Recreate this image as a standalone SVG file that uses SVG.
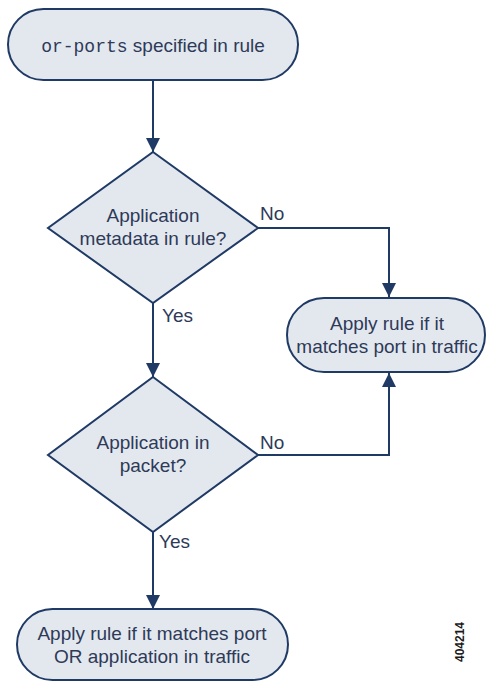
<svg xmlns="http://www.w3.org/2000/svg" width="488" height="681" viewBox="0 0 488 681">
<defs>
<style>
.node{fill:#e3e8ef;stroke:#203a66;stroke-width:2}
.t{font-family:"Liberation Sans",Arial,sans-serif;font-size:19px;fill:#2e3a58;text-anchor:middle}
.lbl{font-family:"Liberation Sans",Arial,sans-serif;font-size:19px;fill:#2e3a58}
.mono{font-family:"Liberation Mono","Courier New",monospace;font-size:18px}
.c{fill:none;stroke:#203a66;stroke-width:2}
</style>
<marker id="a" viewBox="0 0 14 14" refX="14" refY="7" markerWidth="14" markerHeight="14" markerUnits="userSpaceOnUse" orient="auto">
<path d="M0,0 L14,7 L0,14 z" fill="#203a66"/>
</marker>
</defs>
<rect width="488" height="681" fill="#ffffff"/>
<g id="connectors">
<line class="c" x1="153" y1="80" x2="153" y2="152" marker-end="url(#a)"/>
<polyline class="c" points="258,228 389,228 389,297" marker-end="url(#a)"/>
<line class="c" x1="153" y1="303" x2="153" y2="377" marker-end="url(#a)"/>
<polyline class="c" points="258,455 389,455 389,373" marker-end="url(#a)"/>
<line class="c" x1="153" y1="532" x2="153" y2="609" marker-end="url(#a)"/>
<text class="lbl" x="260" y="220">No</text>
<text class="lbl" x="162" y="322">Yes</text>
<text class="lbl" x="260" y="449">No</text>
<text class="lbl" x="159" y="548">Yes</text>
</g>
<g id="start">
<rect class="node" x="8" y="9" width="290" height="71" rx="35.5"/>
<text class="t" x="153" y="52"><tspan class="mono">or-ports</tspan> specified in rule</text>
</g>
<g id="decision1">
<polygon class="node" points="153,152 258,228 153,303 48,228"/>
<text class="t" x="153" y="222">Application</text>
<text class="t" x="153" y="245">metadata in rule?</text>
</g>
<g id="portOnly">
<rect class="node" x="287" y="298" width="198" height="74" rx="37"/>
<text class="t" x="387" y="330">Apply rule if it</text>
<text class="t" x="387" y="353">matches port in traffic</text>
</g>
<g id="decision2">
<polygon class="node" points="153,377 258,455 153,532 48,455"/>
<text class="t" x="153" y="449">Application in</text>
<text class="t" x="153" y="472">packet?</text>
</g>
<g id="portOrApp">
<rect class="node" x="17" y="609" width="271" height="71" rx="35.5"/>
<text class="t" x="152" y="640">Apply rule if it matches port</text>
<text class="t" x="152" y="663">OR application in traffic</text>
</g>
<text x="464" y="642" transform="rotate(-90 464 642)" font-family="Liberation Sans,Arial,sans-serif" font-size="12" font-weight="bold" fill="#1a1a1a" text-anchor="middle">404214</text>
</svg>
